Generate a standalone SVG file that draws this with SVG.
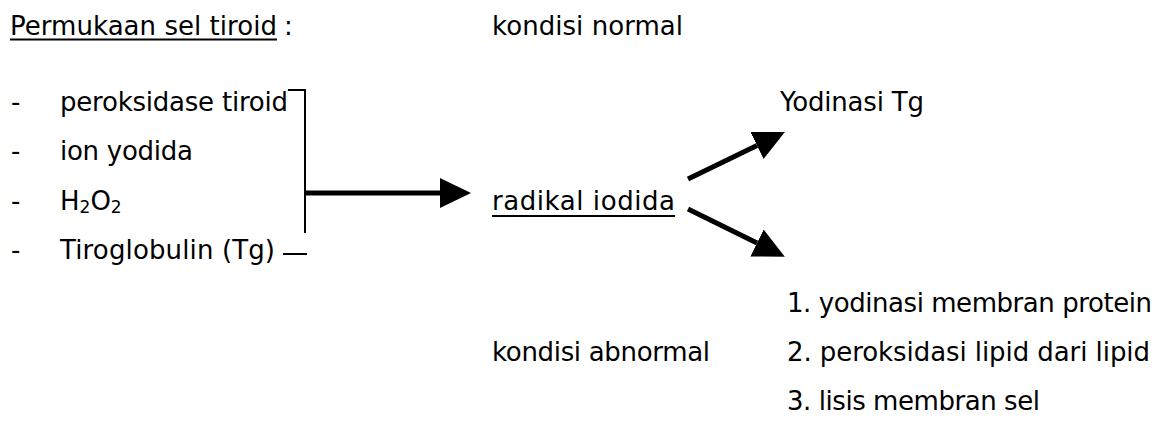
<svg xmlns="http://www.w3.org/2000/svg" width="1158" height="421" viewBox="0 0 1158 421">
  <style>
    text { font-family: "DejaVu Sans", Verdana, sans-serif; font-size: 26px; fill: #000; }
    .rule { stroke: #000; stroke-width: 2; fill: none; }
    .shaft { stroke: #000; stroke-width: 5; fill: none; }
  </style>
  <defs>
    <marker id="head" viewBox="0 0 31 30" markerUnits="userSpaceOnUse" markerWidth="31" markerHeight="30" refX="0" refY="15" orient="auto">
      <path d="M0,0 L31,15 L0,30 Z" fill="#000"/>
    </marker>
  </defs>
  <rect width="1158" height="421" fill="#fff"/>

  <!-- heading -->
  <g id="heading">
    <text x="10" y="35" textLength="267" lengthAdjust="spacing">Permukaan sel tiroid</text>
    <line class="rule" x1="10" y1="39.5" x2="277" y2="39.5"/>
    <text x="284" y="35">:</text>
  </g>

  <g id="label-normal">
    <text x="492" y="35" textLength="191" lengthAdjust="spacing">kondisi normal</text>
  </g>

  <!-- components at the cell surface -->
  <g id="components">
    <text x="11" y="111">-</text>
    <text x="60" y="111" textLength="228" lengthAdjust="spacing">peroksidase tiroid</text>
    <text x="11" y="160">-</text>
    <text x="60" y="160" textLength="133" lengthAdjust="spacing">ion yodida</text>
    <text x="11" y="210">-</text>
    <text x="60" y="210">H<tspan font-size="17" dy="3">2</tspan><tspan dy="-3">O</tspan><tspan font-size="17" dy="3">2</tspan></text>
    <text x="11" y="259">-</text>
    <text x="60" y="259" textLength="215" lengthAdjust="spacing">Tiroglobulin (Tg)</text>
  </g>

  <g id="radikal">
    <text x="492" y="210" textLength="183" lengthAdjust="spacing">radikal iodida</text>
    <line class="rule" x1="492" y1="216" x2="675" y2="216"/>
  </g>

  <g id="yodinasi">
    <text x="780" y="111" textLength="144" lengthAdjust="spacing">Yodinasi Tg</text>
  </g>

  <g id="label-abnormal">
    <text x="492" y="361" textLength="218" lengthAdjust="spacing">kondisi abnormal</text>
  </g>

  <g id="effects">
    <text x="787" y="312" textLength="365" lengthAdjust="spacing">1. yodinasi membran protein</text>
    <text x="787" y="361" textLength="363" lengthAdjust="spacing">2. peroksidasi lipid dari lipid</text>
    <text x="787" y="410" textLength="253" lengthAdjust="spacing">3. lisis membran sel</text>
  </g>

  <!-- connectors -->
  <g id="connectors">
    <polyline class="rule" points="288,90 305,90 305,233"/>
    <line class="rule" x1="283" y1="254" x2="307" y2="254"/>
    <line class="shaft" x1="305" y1="193" x2="440" y2="193" marker-end="url(#head)"/>
    <line class="shaft" x1="688" y1="179" x2="757" y2="145.5" marker-end="url(#head)"/>
    <line class="shaft" x1="688" y1="209" x2="757" y2="243" marker-end="url(#head)"/>
  </g>
</svg>
